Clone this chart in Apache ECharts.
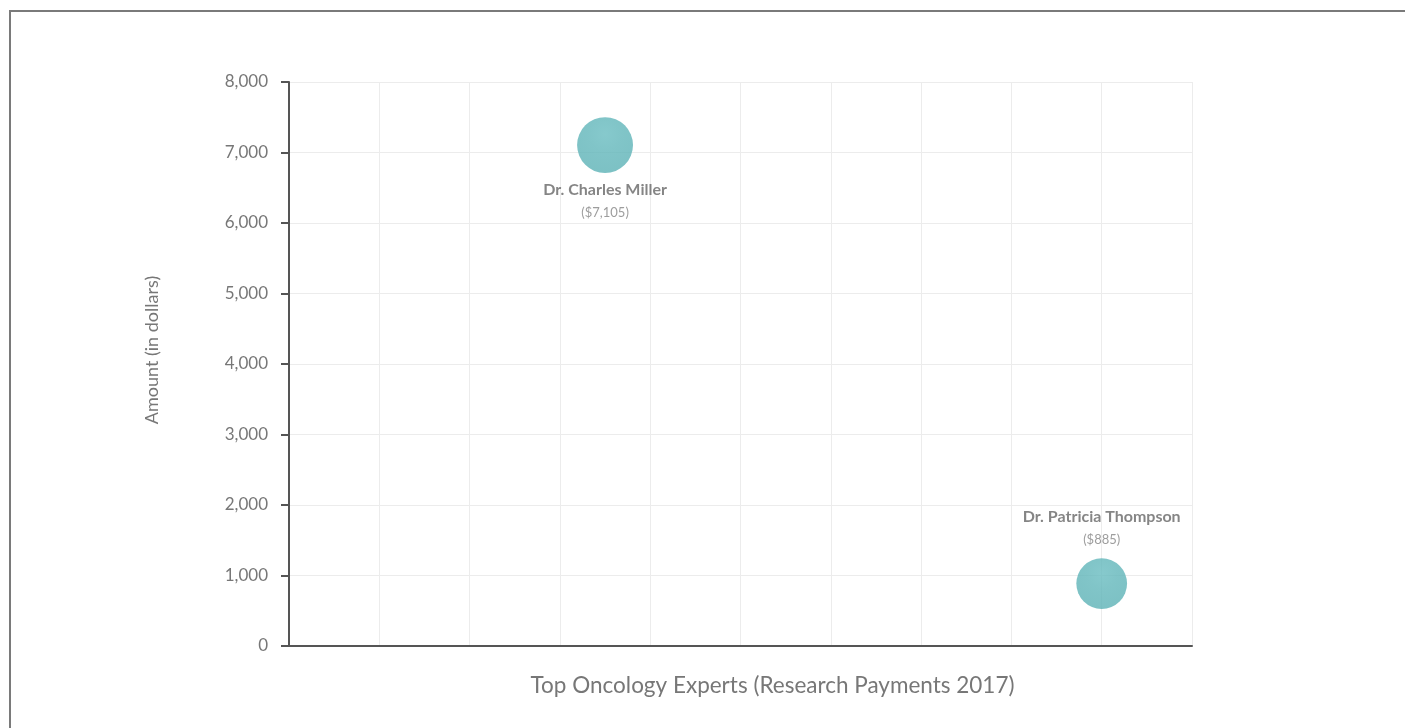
<!DOCTYPE html>
<html>
<head>
<meta charset="utf-8">
<script src="https://cdn.jsdelivr.net/npm/echarts@6/dist/echarts.min.js"></script>
<style>
  html, body { margin: 0; padding: 0; background: #fff; overflow: hidden; }
  #frame {
    position: absolute; left: 9px; top: 10px; width: 1600px; height: 900px;
    border: 2px solid #7a7a7a; box-sizing: border-box;
  }
  #chart { position: absolute; left: 0; top: 0; width: 1405px; height: 728px; }
</style>
</head>
<body>
<div id="frame"></div>
<div id="chart"></div>
<script>
// data
const expertNames = ['Dr. Charles Miller', 'Dr. Patricia Thompson']
const expertSlots = [3.5, 9]
const amounts = [7105, 885]
const yTicks = [0, 1000, 2000, 3000, 4000, 5000, 6000, 7000, 8000]

const fontFamily = 'Lato, "Open Sans", sans-serif'
const fmt = v => v.toLocaleString('en-US')

const seriesData = expertNames.map((name, i) => ({
  name: name,
  value: [expertSlots[i], amounts[i]],
  symbolSize: 50 + amounts[i] / 1200,
  label: {
    position: amounts[i] > 4000 ? 'bottom' : 'top',
    distance: amounts[i] > 4000 ? 5 : 7
  }
}))

const chart = echarts.init(document.getElementById('chart'))
chart.setOption({
  animation: false,
  grid: { left: 289, top: 82, right: 213, bottom: 82 },
  xAxis: {
    type: 'value',
    min: 0,
    max: 10,
    interval: 1,
    name: 'Top Oncology Experts (Research Payments 2017)',
    nameLocation: 'middle',
    nameGap: 28,
    nameTextStyle: { color: '#777', fontSize: 22.5, fontFamily: fontFamily, padding: [0, 0, 0, 64] },
    axisLine: { show: true, lineStyle: { color: '#555', width: 2 } },
    axisTick: { show: false },
    axisLabel: { show: false },
    splitLine: { show: true, lineStyle: { color: '#ececec', width: 1 } }
  },
  yAxis: {
    type: 'value',
    min: yTicks[0],
    max: yTicks[yTicks.length - 1],
    interval: 1000,
    name: 'Amount (in dollars)',
    nameLocation: 'middle',
    nameGap: 128,
    nameTextStyle: { color: '#777', fontSize: 18, fontFamily: fontFamily, padding: [0, 0, 0, 28] },
    axisLine: { show: true, lineStyle: { color: '#555', width: 2 } },
    axisTick: { show: true, inside: false, length: 8, lineStyle: { color: '#555', width: 2 } },
    axisLabel: { color: '#777', fontSize: 17, fontFamily: fontFamily, margin: 21, formatter: v => fmt(v) },
    splitLine: { show: true, lineStyle: { color: '#ececec', width: 1 } }
  },
  series: [{
    type: 'scatter',
    data: seriesData,
    itemStyle: {
      color: new echarts.graphic.RadialGradient(0.5, 0.3, 0.75, [
        { offset: 0, color: '#68bcc0' },
        { offset: 0.4, color: '#61b6ba' },
        { offset: 1, color: '#5bb1b5' }
      ])
    },
    label: {
      show: true,
      formatter: p => '{n|' + p.name + '}\n{v|($' + fmt(p.value[1]) + ')}',
      rich: {
        n: { color: '#676767', fontSize: 16, fontWeight: 'bold', fontFamily: fontFamily, lineHeight: 24, align: 'center' },
        v: { color: '#858585', fontSize: 13, fontFamily: fontFamily, lineHeight: 22, align: 'center' }
      }
    },
    emphasis: { disabled: true }
  }]
})
</script>
</body>
</html>
